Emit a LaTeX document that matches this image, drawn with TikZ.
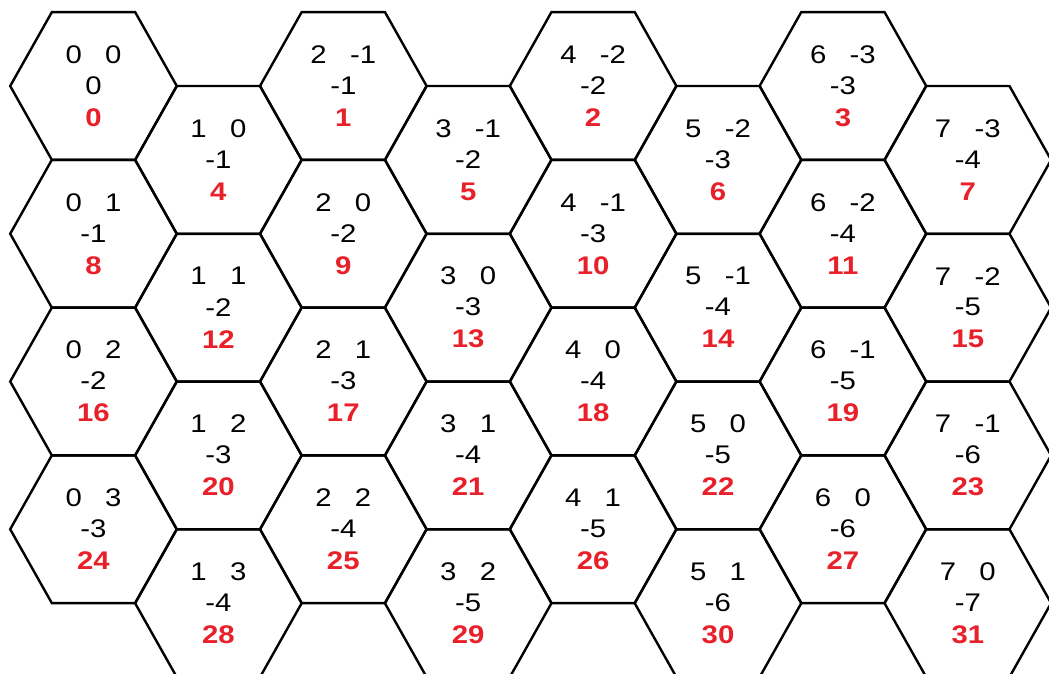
\documentclass[tikz,border=0pt]{standalone}
\usepackage{fontspec}
\setmainfont{Liberation Sans}[FakeStretch=1.15]
\definecolor{idred}{HTML}{E8202A}

\begin{document}
\begin{tikzpicture}[x=1pt, y=-1pt,
  hexline/.style={line width=2.4pt, line join=miter},
  coord/.style={font=\fontsize{25.5}{30}\selectfont, inner sep=0pt},
  idnum/.style={font=\fontsize{25.5}{30}\selectfont\bfseries, text=idred, inner sep=0pt}]
\useasboundingbox (0,0) rectangle (1049,673);
\clip (0,0) rectangle (1049,673);
\foreach \c in {0,...,7}{
  \foreach \r in {0,...,3}{
    \pgfmathsetmacro{\cx}{93.5+124.9*\c}
    \pgfmathsetmacro{\cy}{86+147.75*\r+73.9*mod(\c,2)}
    \pgfmathtruncatemacro{\qv}{\c}
    \pgfmathtruncatemacro{\rv}{\r-floor(\c/2)}
    \pgfmathtruncatemacro{\sv}{-\qv-\rv}
    \pgfmathtruncatemacro{\hexid}{8*\r+ifthenelse(mod(\c,2)==0,\c/2,4+(\c-1)/2)}
    % one cell
    \draw[hexline] (\cx-83.3,\cy) -- ++(41.65,-73.9) -- ++(83.3,0) -- ++(41.65,73.9)
      -- ++(-41.65,73.9) -- ++(-83.3,0) -- cycle;
    \node[coord] (qr-\hexid) at (\cx,\cy-31.5) {\qv\hspace{23.3pt}\rv};
    \node[coord] (s-\hexid) at (\cx,\cy-0.5) {\sv};
    \node[idnum] (id-\hexid) at (\cx,\cy+31.5) {\hexid};
  }
}
\end{tikzpicture}
\end{document}
